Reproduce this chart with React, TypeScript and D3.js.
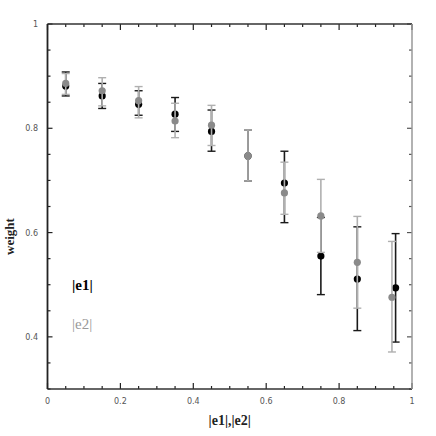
import React, { useEffect, useRef } from "react";
import * as d3 from "d3";

const width = 436;
const height = 436;

// bin centres and measured weights
const xE1 = [0.05, 0.15, 0.25, 0.35, 0.45, 0.55, 0.65, 0.75, 0.85, 0.955];
const yE1 = [0.881, 0.862, 0.846, 0.827, 0.794, 0.747, 0.695, 0.555, 0.511, 0.494];
const loE1 = [0.862, 0.838, 0.825, 0.794, 0.756, 0.699, 0.619, 0.481, 0.412, 0.39];
const hiE1 = [0.908, 0.886, 0.872, 0.859, 0.835, 0.797, 0.756, 0.629, 0.611, 0.598];

const xE2 = [0.05, 0.15, 0.25, 0.35, 0.45, 0.55, 0.65, 0.75, 0.85, 0.945];
const yE2 = [0.886, 0.872, 0.853, 0.814, 0.806, 0.747, 0.676, 0.632, 0.543, 0.476];
const loE2 = [0.865, 0.843, 0.82, 0.782, 0.767, 0.699, 0.635, 0.562, 0.455, 0.371];
const hiE2 = [0.905, 0.897, 0.88, 0.848, 0.844, 0.797, 0.735, 0.702, 0.631, 0.583];

const xTickLabels = [0, 0.2, 0.4, 0.6, 0.8, 1];
const yTickLabels = [0.4, 0.6, 0.8, 1];

export default function App() {
  const ref = useRef<SVGSVGElement>(null);

  useEffect(() => {
    const svg = d3.select(ref.current);
    svg.selectAll("*").remove();

    const m = { left: 47.5, right: 412, top: 24, bottom: 389 };
    const x = d3.scaleLinear().domain([0, 1]).range([m.left, m.right]);
    const y = d3.scaleLinear().domain([0.3, 1]).range([m.bottom, m.top]);

    const g = svg.append("g");

    // ticks on all four sides, pointing inward
    const xTicks = d3.range(0, 1.0001, 0.05);
    const yTicks = d3.range(0.3, 1.0001, 0.05);
    const isMajor = (v: number) => Math.abs(v * 5 - Math.round(v * 5)) < 1e-6;

    xTicks.forEach((v) => {
      const len = isMajor(v) ? 6 : 3;
      g.append("line").attr("x1", x(v)).attr("x2", x(v))
        .attr("y1", m.bottom).attr("y2", m.bottom - len)
        .attr("stroke", "#222").attr("stroke-width", 1.2);
      g.append("line").attr("x1", x(v)).attr("x2", x(v))
        .attr("y1", m.top).attr("y2", m.top + len)
        .attr("stroke", "#222").attr("stroke-width", 1.2);
    });
    yTicks.forEach((v) => {
      const len = isMajor(v) ? 5 : 3;
      g.append("line").attr("y1", y(v)).attr("y2", y(v))
        .attr("x1", m.left).attr("x2", m.left + len)
        .attr("stroke", "#222").attr("stroke-width", 1.2);
      g.append("line").attr("y1", y(v)).attr("y2", y(v))
        .attr("x1", m.right).attr("x2", m.right - len)
        .attr("stroke", "#555").attr("stroke-width", 1.2);
    });

    // frame
    g.append("line").attr("x1", m.left).attr("x2", m.right).attr("y1", m.top).attr("y2", m.top)
      .attr("stroke", "#333").attr("stroke-width", 1.5);
    g.append("line").attr("x1", m.left).attr("x2", m.right).attr("y1", m.bottom).attr("y2", m.bottom)
      .attr("stroke", "#333").attr("stroke-width", 1.5);
    g.append("line").attr("x1", m.left).attr("x2", m.left).attr("y1", m.top).attr("y2", m.bottom)
      .attr("stroke", "#222").attr("stroke-width", 1.8);
    g.append("line").attr("x1", m.right).attr("x2", m.right).attr("y1", m.top).attr("y2", m.bottom)
      .attr("stroke", "#999").attr("stroke-width", 1.5);

    // tick labels
    const fmt = (v: number) => (v === 0 || v === 1 ? String(v) : d3.format(".1f")(v));
    g.selectAll(".xl").data(xTickLabels).enter().append("text")
      .attr("x", (d) => x(d)).attr("y", 404)
      .attr("text-anchor", "middle")
      .attr("font-family", "DejaVu Sans, sans-serif").attr("font-size", 8)
      .attr("fill", "#555").text(fmt);
    g.selectAll(".yl").data(yTickLabels).enter().append("text")
      .attr("x", 38).attr("y", (d) => y(d) + 3)
      .attr("text-anchor", "end")
      .attr("font-family", "DejaVu Sans, sans-serif").attr("font-size", 8)
      .attr("fill", "#555").text(fmt);

    // error bars + points
    const drawSeries = (xs: number[], ys: number[], lo: number[], hi: number[],
      barColor: string, dotColor: string) => {
      xs.forEach((xv, i) => {
        const cx = x(xv);
        g.append("line").attr("x1", cx).attr("x2", cx)
          .attr("y1", y(lo[i])).attr("y2", y(hi[i]))
          .attr("stroke", barColor).attr("stroke-width", 1.6);
        [lo[i], hi[i]].forEach((v) => {
          g.append("line").attr("x1", cx - 4).attr("x2", cx + 4)
            .attr("y1", y(v)).attr("y2", y(v))
            .attr("stroke", barColor).attr("stroke-width", 1.4);
        });
      });
      xs.forEach((xv, i) => {
        g.append("circle").attr("cx", x(xv)).attr("cy", y(ys[i]))
          .attr("r", 3.6).attr("fill", dotColor);
      });
    };
    drawSeries(xE1, yE1, loE1, hiE1, "#1a1a1a", "#000");
    drawSeries(xE2, yE2, loE2, hiE2, "#b0b0b0", "#8a8a8a");

    // legend
    g.append("text").attr("x", 72).attr("y", 290)
      .attr("font-family", "Liberation Serif, serif").attr("font-size", 15)
      .attr("font-weight", "bold").attr("fill", "#000").text("|e1|");
    g.append("text").attr("x", 72).attr("y", 329)
      .attr("font-family", "Liberation Serif, serif").attr("font-size", 15)
      .attr("fill", "#999").text("|e2|");

    // axis titles
    g.append("text").attr("x", (m.left + m.right) / 2).attr("y", 425)
      .attr("text-anchor", "middle")
      .attr("font-family", "Liberation Serif, serif").attr("font-size", 14)
      .attr("font-weight", "bold").attr("fill", "#222").text("|e1|,|e2|");
    g.append("text")
      .attr("transform", `translate(14, ${(m.top + m.bottom) / 2 + 30}) rotate(-90)`)
      .attr("text-anchor", "middle")
      .attr("font-family", "Liberation Serif, serif").attr("font-size", 13)
      .attr("font-weight", "bold").attr("fill", "#222").text("weight");
  }, []);

  return (
    <svg
      ref={ref}
      width={width}
      height={height}
      style={{ position: "absolute", left: 0, top: 0, background: "#fff" }}
    />
  );
}
